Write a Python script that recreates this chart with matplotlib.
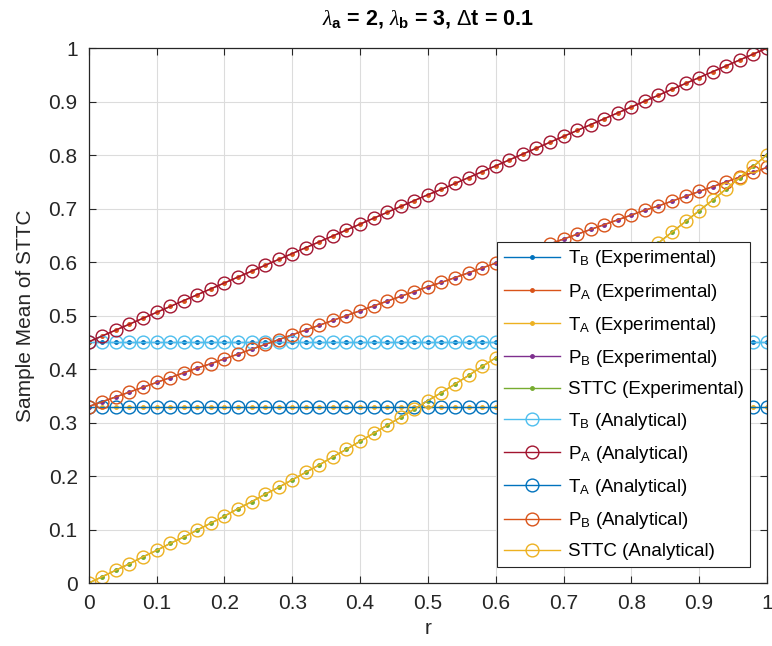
import numpy as np
import matplotlib
matplotlib.use("Agg")
import matplotlib.pyplot as plt

plt.rcParams['font.family'] = ['Liberation Sans', 'DejaVu Sans']
plt.rcParams['mathtext.fontset'] = 'custom'
plt.rcParams['mathtext.rm'] = 'Liberation Sans'
plt.rcParams['mathtext.it'] = 'Liberation Serif:italic'
plt.rcParams['mathtext.bf'] = 'Liberation Sans:bold'

# r from 0 to 1 in steps of 0.02
r = [i / 50 for i in range(51)]

t_b = [0.451] * 51
t_a = [0.330] * 51

p_a = [0.451, 0.462, 0.473, 0.484, 0.495, 0.506, 0.517, 0.528, 0.539, 0.550,
       0.561, 0.572, 0.583, 0.594, 0.605, 0.616, 0.627, 0.638, 0.649, 0.660,
       0.671, 0.682, 0.693, 0.704, 0.715, 0.726, 0.736, 0.747, 0.758, 0.769,
       0.780, 0.791, 0.802, 0.813, 0.824, 0.835, 0.846, 0.857, 0.868, 0.879,
       0.890, 0.901, 0.912, 0.923, 0.934, 0.945, 0.956, 0.967, 0.978, 0.989,
       1.000]

p_b = [0.330, 0.339, 0.348, 0.357, 0.366, 0.375, 0.384, 0.393, 0.402, 0.410,
       0.419, 0.428, 0.437, 0.446, 0.455, 0.464, 0.473, 0.482, 0.491, 0.500,
       0.509, 0.518, 0.527, 0.536, 0.545, 0.554, 0.562, 0.571, 0.580, 0.589,
       0.598, 0.607, 0.616, 0.625, 0.634, 0.643, 0.652, 0.661, 0.670, 0.679,
       0.688, 0.697, 0.705, 0.714, 0.723, 0.732, 0.741, 0.750, 0.759, 0.768,
       0.777]

sttc = [0.000, 0.012, 0.024, 0.036, 0.049, 0.061, 0.074, 0.086, 0.099, 0.112,
        0.125, 0.139, 0.152, 0.166, 0.179, 0.193, 0.207, 0.221, 0.236, 0.250,
        0.265, 0.280, 0.295, 0.310, 0.325, 0.341, 0.356, 0.372, 0.388, 0.405,
        0.421, 0.438, 0.455, 0.472, 0.489, 0.507, 0.525, 0.543, 0.561, 0.579,
        0.598, 0.617, 0.636, 0.656, 0.676, 0.696, 0.716, 0.737, 0.758, 0.779,
        0.801]

blue = '#0072BD'
orange = '#D95319'
yellow = '#EDB120'
purple = '#7E2F8E'
green = '#77AC30'
cyan = '#4DBEEE'
red = '#A2142F'

fig = plt.figure(figsize=(7.72, 6.46), dpi=100)
ax = fig.add_axes([0.115, 0.0975, 0.8785, 0.828])

# experimental
exp_series = [(t_b, blue, 'T$_\\mathrm{B}$ (Experimental)'),
              (p_a, orange, 'P$_\\mathrm{A}$ (Experimental)'),
              (t_a, yellow, 'T$_\\mathrm{A}$ (Experimental)'),
              (p_b, purple, 'P$_\\mathrm{B}$ (Experimental)'),
              (sttc, green, 'STTC (Experimental)')]
for y, c, lab in exp_series:
    ax.plot(r, y, '.-', color=c, lw=1.0, ms=5, label=lab)

# analytical
ana_series = [(t_b, cyan, 'T$_\\mathrm{B}$ (Analytical)'),
              (p_a, red, 'P$_\\mathrm{A}$ (Analytical)'),
              (t_a, blue, 'T$_\\mathrm{A}$ (Analytical)'),
              (p_b, orange, 'P$_\\mathrm{B}$ (Analytical)'),
              (sttc, yellow, 'STTC (Analytical)')]
for y, c, lab in ana_series:
    ax.plot(r, y, 'o-', color=c, lw=1.0, ms=9.2, mfc='none', mew=1.0, label=lab)

ax.set_xlim(0, 1)
ax.set_ylim(0, 1)
ax.set_xticks(np.arange(0, 1.01, 0.1))
ax.set_yticks(np.arange(0, 1.01, 0.1))
ax.set_xticklabels(['0', '0.1', '0.2', '0.3', '0.4', '0.5', '0.6', '0.7', '0.8', '0.9', '1'])
ax.set_yticklabels(['0', '0.1', '0.2', '0.3', '0.4', '0.5', '0.6', '0.7', '0.8', '0.9', '1'])
ax.grid(True, color='#dcdcdc', lw=0.8)
ax.set_axisbelow(True)
ax.tick_params(direction='in', top=True, right=True, length=5, colors='#262626',
               labelsize=15, pad=8)
for s in ax.spines.values():
    s.set_color('#262626')
    s.set_linewidth(0.9)

ax.set_xlabel('r', fontsize=15, color='#262626')
ax.set_ylabel('Sample Mean of STTC', fontsize=15, color='#262626', labelpad=10)
ax.set_title('$\\lambda_\\mathbf{a}$ = 2, $\\lambda_\\mathbf{b}$ = 3, $\\Delta$t = 0.1',
             fontsize=15.5, fontweight='bold', color='#000000', pad=17)

leg = ax.legend(loc='lower right', bbox_to_anchor=(0.975, 0.030), borderaxespad=0,
                fontsize=13.5, fancybox=False, framealpha=1, edgecolor='#262626',
                handlelength=3.0, labelspacing=0.65, borderpad=0.35, handletextpad=0.4)
leg.get_frame().set_linewidth(0.8)

fig.savefig('out.png', dpi=100)
